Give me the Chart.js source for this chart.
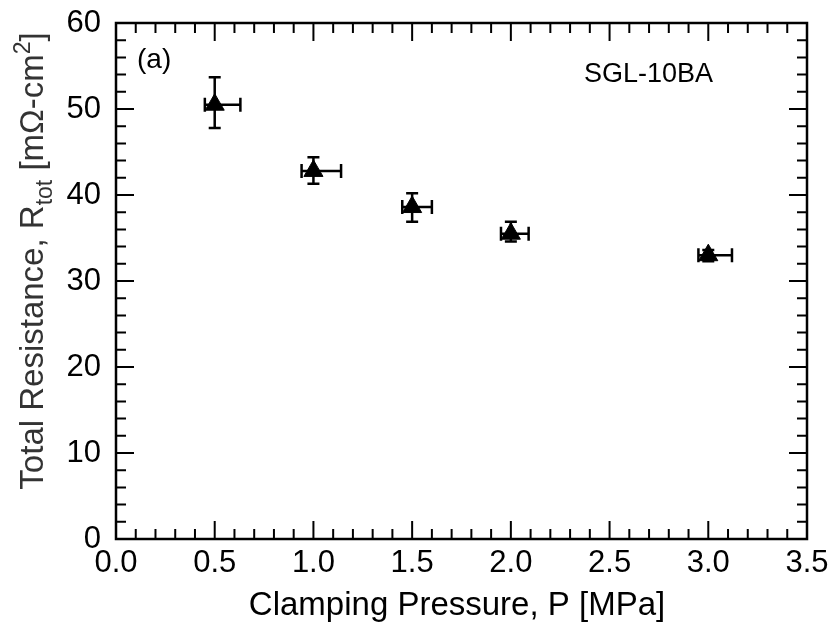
<!DOCTYPE html>
<html lang="en">

<head>
    <meta charset="UTF-8" />
    <title>Total Resistance vs Clamping Pressure</title>
    <script src="https://cdn.jsdelivr.net/npm/chart.js"></script>
    <style>
        body {
            margin: 0;
            background: #ffffff;
        }

        #wrap {
            width: 832px;
            height: 628px;
        }
    </style>
</head>

<body>
    <div id="wrap">
        <canvas id="resChart" width="832" height="628"></canvas>
    </div>

    <script>
        // data
        const pressure = [0.5, 1.0, 1.5, 2.0, 3.0];
        const resistance = [50.5, 42.8, 38.6, 35.5, 33.0];
        const resistanceLow = [47.8, 41.3, 36.9, 34.6, 32.3];
        const resistanceHigh = [53.7, 44.4, 40.2, 36.9, 33.6];
        const pressureLow = [0.45, 0.94, 1.45, 1.95, 2.95];
        const pressureHigh = [0.63, 1.14, 1.60, 2.09, 3.12];

        const xMin = 0, xMax = 3.5, xStep = 0.5, xMinor = 0.1;
        const yMin = 0, yMax = 60, yStep = 10, yMinor = 2;

        const fontName = '"Liberation Sans", Arial, sans-serif';

        // error bars, under the markers
        const errorBars = {
            id: 'errorBars',
            beforeDatasetsDraw(chart) {
                const { ctx, scales: { x, y } } = chart;
                const capV = 6, capH = 7;
                ctx.save();
                ctx.strokeStyle = '#000';
                ctx.lineWidth = 2.5;
                pressure.forEach((p, i) => {
                    const px = x.getPixelForValue(p);
                    const py = y.getPixelForValue(resistance[i]);
                    const yTop = y.getPixelForValue(resistanceHigh[i]);
                    const yBot = y.getPixelForValue(resistanceLow[i]);
                    const xL = x.getPixelForValue(pressureLow[i]);
                    const xR = x.getPixelForValue(pressureHigh[i]);
                    ctx.beginPath();
                    ctx.moveTo(px, yTop); ctx.lineTo(px, yBot);
                    ctx.moveTo(px - capV, yTop); ctx.lineTo(px + capV, yTop);
                    ctx.moveTo(px - capV, yBot); ctx.lineTo(px + capV, yBot);
                    ctx.moveTo(xL, py); ctx.lineTo(xR, py);
                    ctx.moveTo(xL, py - capH); ctx.lineTo(xL, py + capH);
                    ctx.moveTo(xR, py - capH); ctx.lineTo(xR, py + capH);
                    ctx.stroke();
                });
                ctx.restore();
            }
        };

        // box frame with inward ticks on all four sides, plus the texts
        const frame = {
            id: 'frame',
            afterDraw(chart) {
                const { ctx, chartArea: a, scales: { x, y } } = chart;
                const major = 18, minor = 10;
                ctx.save();
                ctx.strokeStyle = '#000';
                ctx.lineWidth = 2.5;
                ctx.strokeRect(a.left, a.top, a.right - a.left, a.bottom - a.top);

                ctx.lineWidth = 2;
                ctx.beginPath();
                const nx = Math.round((xMax - xMin) / xMinor);
                for (let k = 1; k < nx; k++) {
                    const v = xMin + k * xMinor;
                    const len = (k % Math.round(xStep / xMinor) === 0) ? major : minor;
                    const px = x.getPixelForValue(v);
                    ctx.moveTo(px, a.bottom); ctx.lineTo(px, a.bottom - len);
                    ctx.moveTo(px, a.top); ctx.lineTo(px, a.top + len);
                }
                const ny = Math.round((yMax - yMin) / yMinor);
                for (let k = 1; k < ny; k++) {
                    const v = yMin + k * yMinor;
                    const len = (k % Math.round(yStep / yMinor) === 0) ? major : minor;
                    const py = y.getPixelForValue(v);
                    ctx.moveTo(a.left, py); ctx.lineTo(a.left + len, py);
                    ctx.moveTo(a.right, py); ctx.lineTo(a.right - len, py);
                }
                ctx.stroke();

                // labels inside the plot
                ctx.fillStyle = '#000';
                ctx.textBaseline = 'middle';
                ctx.textAlign = 'left';
                ctx.font = '28px ' + fontName;
                ctx.fillText('(a)', a.left + 21, a.top + 37);
                ctx.font = '27px ' + fontName;
                ctx.fillText('SGL-10BA', 584, a.top + 52);

                // x title
                ctx.textAlign = 'center';
                ctx.font = '33px ' + fontName;
                ctx.fillText('Clamping Pressure, P [MPa]', 457, 606);

                // y title with subscript / superscript
                const parts = [
                    { t: 'Total Resistance, R', s: 33, dy: 0 },
                    { t: 'tot', s: 23, dy: 9 },
                    { t: ' [m\u03A9-cm', s: 33, dy: 0 },
                    { t: '2', s: 23, dy: -13 },
                    { t: ']', s: 33, dy: 0 }
                ];
                let total = 0;
                parts.forEach(p => {
                    ctx.font = p.s + 'px ' + fontName;
                    p.w = ctx.measureText(p.t).width;
                    total += p.w;
                });
                ctx.translate(43, 261);
                ctx.rotate(-Math.PI / 2);
                ctx.fillStyle = '#333';
                ctx.textAlign = 'left';
                ctx.textBaseline = 'alphabetic';
                let cx = -total / 2;
                parts.forEach(p => {
                    ctx.font = p.s + 'px ' + fontName;
                    ctx.fillText(p.t, cx, p.dy);
                    cx += p.w;
                });
                ctx.restore();
            }
        };

        const resChart = new Chart(document.getElementById('resChart'), {
            type: 'scatter',
            data: {
                datasets: [{
                    label: 'SGL-10BA',
                    data: pressure.map((p, i) => ({ x: p, y: resistance[i] })),
                    pointStyle: 'triangle',
                    pointRadius: 11,
                    pointHoverRadius: 11,
                    backgroundColor: '#000',
                    borderColor: '#000',
                    borderWidth: 1
                }]
            },
            options: {
                responsive: false,
                animation: false,
                layout: { padding: { top: 23, right: 25, left: 0, bottom: 0 } },
                plugins: {
                    legend: { display: false },
                    tooltip: { enabled: false }
                },
                scales: {
                    x: {
                        type: 'linear',
                        min: xMin,
                        max: xMax,
                        grid: { display: false, drawTicks: false },
                        border: { display: false },
                        ticks: {
                            stepSize: xStep,
                            color: '#000',
                            padding: 6,
                            maxRotation: 0,
                            font: { size: 31, family: fontName },
                            callback: v => v.toFixed(1)
                        },
                        afterFit: s => { s.height = 89; s.paddingLeft = 0; s.paddingRight = 0; }
                    },
                    y: {
                        type: 'linear',
                        min: yMin,
                        max: yMax,
                        grid: { display: false, drawTicks: false },
                        border: { display: false },
                        ticks: {
                            stepSize: yStep,
                            color: '#000',
                            padding: 15,
                            font: { size: 31, family: fontName }
                        },
                        afterFit: s => { s.width = 116; s.paddingTop = 0; s.paddingBottom = 0; }
                    }
                }
            },
            plugins: [errorBars, frame]
        });
    </script>
</body>

</html>
